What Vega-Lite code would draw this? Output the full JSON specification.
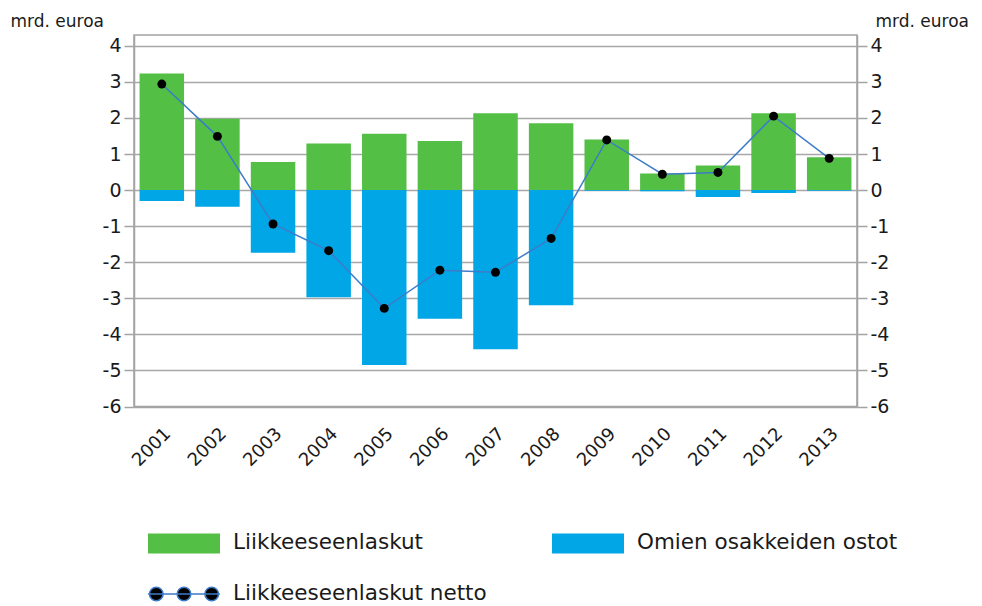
{
  "$schema": "https://vega.github.io/schema/vega-lite/v6.json",
  "autosize": {"type": "none"},
  "padding": {"left": 134, "top": 35, "right": 125, "bottom": 199.5},
  "width": 723,
  "height": 371.5,
  "background": "white",
  "config": {
    "font": "DejaVu Sans",
    "view": {"stroke": "#a3a3a3", "strokeWidth": 1.5},
    "axis": {"labelFont": "DejaVu Sans", "titleFont": "DejaVu Sans", "labelColor": "#1a1a1a", "titleColor": "#1a1a1a"}
  },
  "data": {"values": [
    {"year": "2001", "series": "1 Liikkeeseenlaskut", "value": 3.23},
    {"year": "2002", "series": "1 Liikkeeseenlaskut", "value": 1.98},
    {"year": "2003", "series": "1 Liikkeeseenlaskut", "value": 0.78},
    {"year": "2004", "series": "1 Liikkeeseenlaskut", "value": 1.29},
    {"year": "2005", "series": "1 Liikkeeseenlaskut", "value": 1.56},
    {"year": "2006", "series": "1 Liikkeeseenlaskut", "value": 1.36},
    {"year": "2007", "series": "1 Liikkeeseenlaskut", "value": 2.13},
    {"year": "2008", "series": "1 Liikkeeseenlaskut", "value": 1.85},
    {"year": "2009", "series": "1 Liikkeeseenlaskut", "value": 1.40},
    {"year": "2010", "series": "1 Liikkeeseenlaskut", "value": 0.46},
    {"year": "2011", "series": "1 Liikkeeseenlaskut", "value": 0.68},
    {"year": "2012", "series": "1 Liikkeeseenlaskut", "value": 2.13},
    {"year": "2013", "series": "1 Liikkeeseenlaskut", "value": 0.91},
    {"year": "2001", "series": "2 Omien osakkeiden ostot", "value": -0.30},
    {"year": "2002", "series": "2 Omien osakkeiden ostot", "value": -0.46},
    {"year": "2003", "series": "2 Omien osakkeiden ostot", "value": -1.74},
    {"year": "2004", "series": "2 Omien osakkeiden ostot", "value": -2.97},
    {"year": "2005", "series": "2 Omien osakkeiden ostot", "value": -4.85},
    {"year": "2006", "series": "2 Omien osakkeiden ostot", "value": -3.57},
    {"year": "2007", "series": "2 Omien osakkeiden ostot", "value": -4.41},
    {"year": "2008", "series": "2 Omien osakkeiden ostot", "value": -3.19},
    {"year": "2009", "series": "2 Omien osakkeiden ostot", "value": -0.02},
    {"year": "2010", "series": "2 Omien osakkeiden ostot", "value": -0.03},
    {"year": "2011", "series": "2 Omien osakkeiden ostot", "value": -0.19},
    {"year": "2012", "series": "2 Omien osakkeiden ostot", "value": -0.08},
    {"year": "2013", "series": "2 Omien osakkeiden ostot", "value": -0.02},
    {"year": "2001", "series": "3 Liikkeeseenlaskut netto", "value": 2.94},
    {"year": "2002", "series": "3 Liikkeeseenlaskut netto", "value": 1.49},
    {"year": "2003", "series": "3 Liikkeeseenlaskut netto", "value": -0.94},
    {"year": "2004", "series": "3 Liikkeeseenlaskut netto", "value": -1.68},
    {"year": "2005", "series": "3 Liikkeeseenlaskut netto", "value": -3.28},
    {"year": "2006", "series": "3 Liikkeeseenlaskut netto", "value": -2.22},
    {"year": "2007", "series": "3 Liikkeeseenlaskut netto", "value": -2.28},
    {"year": "2008", "series": "3 Liikkeeseenlaskut netto", "value": -1.34},
    {"year": "2009", "series": "3 Liikkeeseenlaskut netto", "value": 1.39},
    {"year": "2010", "series": "3 Liikkeeseenlaskut netto", "value": 0.44},
    {"year": "2011", "series": "3 Liikkeeseenlaskut netto", "value": 0.49},
    {"year": "2012", "series": "3 Liikkeeseenlaskut netto", "value": 2.05},
    {"year": "2013", "series": "3 Liikkeeseenlaskut netto", "value": 0.88}
  ]},
  "encoding": {
    "x": {
      "field": "year", "type": "ordinal",
      "scale": {"paddingInner": 0.2, "paddingOuter": 0.1},
      "axis": {"title": null, "labelAngle": -45, "labelFontSize": 18, "ticks": false, "labelPadding": 18, "domainColor": "#a3a3a3", "domainWidth": 1.5}
    }
  },
  "layer": [
    {
      "transform": [{"filter": "datum.series != '3 Liikkeeseenlaskut netto'"}],
      "mark": {"type": "bar"},
      "encoding": {
        "y": {
          "field": "value", "type": "quantitative", "stack": null,
          "scale": {"domain": [-6, 4.3], "nice": false, "zero": false},
          "axis": {
            "orient": "left", "values": [-6, -5, -4, -3, -2, -1, 0, 1, 2, 3, 4], "labelExpr": "'' + datum.value",
            "labelFontSize": 19, "tickSize": 10, "labelPadding": 3,
            "tickColor": "#a3a3a3", "tickWidth": 1.5,
            "domainColor": "#a3a3a3", "domainWidth": 1.5,
            "grid": true, "gridColor": "#a8a8a8", "gridWidth": 1.5,
            "title": "mrd. euroa", "titleAngle": 0, "titleAlign": "left", "titleBaseline": "alphabetic",
            "titleX": -124, "titleY": -8.5, "titleFontSize": 17, "titleFontWeight": "normal"
          }
        },
        "color": {
          "field": "series", "type": "nominal",
          "scale": {"domain": ["1 Liikkeeseenlaskut", "2 Omien osakkeiden ostot", "3 Liikkeeseenlaskut netto"], "range": ["#53bf45", "#00a6e6", "#000000"]},
          "legend": {
            "title": null, "orient": "none", "direction": "horizontal", "legendX": 13, "legendY": 471, "padding": 0,
            "columns": 2, "columnPadding": 62, "rowPadding": -23, "labelLimit": 0,
            "labelExpr": "slice(datum.label, 2)",
            "labelFont": "DejaVu Sans", "labelFontSize": 21.5, "labelColor": "#1a1a1a", "labelOffset": 12,
            "symbolSize": 5184, "symbolOpacity": 1,
            "encode": {"symbols": {"update": {
              "shape": {"signal": "datum.value == '3 Liikkeeseenlaskut netto' ? 'M-0.96,0A0.19,0.19 0 1 1 -0.58,0A0.19,0.19 0 1 1 -0.96,0ZM-0.19,0A0.19,0.19 0 1 1 0.19,0A0.19,0.19 0 1 1 -0.19,0ZM0.58,0A0.19,0.19 0 1 1 0.96,0A0.19,0.19 0 1 1 0.58,0ZM-1,0H1' : 'M-1,-0.278H1V0.278H-1Z'"},
              "stroke": {"signal": "datum.value == '3 Liikkeeseenlaskut netto' ? '#3d7cc9' : 'transparent'"},
              "strokeWidth": {"value": 1.5}
            }}}
          }
        }
      }
    },
    {
      "transform": [{"filter": "datum.series == '3 Liikkeeseenlaskut netto'"}],
      "mark": {"type": "line", "stroke": "#3d7cc9", "strokeWidth": 1.5},
      "encoding": {
        "y": {
          "field": "value", "type": "quantitative",
          "axis": {
            "orient": "right", "values": [-6, -5, -4, -3, -2, -1, 0, 1, 2, 3, 4], "labelExpr": "'' + datum.value",
            "labelFontSize": 19, "tickSize": 10, "labelPadding": 3,
            "tickColor": "#a3a3a3", "tickWidth": 1.5,
            "domainColor": "#a3a3a3", "domainWidth": 1.5, "grid": false,
            "title": "mrd. euroa", "titleAngle": 0, "titleAlign": "left", "titleBaseline": "alphabetic",
            "titleX": 18, "titleY": -8.5, "titleFontSize": 17, "titleFontWeight": "normal"
          }
        }
      }
    },
    {
      "transform": [{"filter": "datum.series == '3 Liikkeeseenlaskut netto'"}],
      "mark": {"type": "point", "filled": true, "size": 80, "opacity": 1, "color": "#000000"},
      "encoding": {
        "y": {"field": "value", "type": "quantitative", "axis": null}
      }
    }
  ],
  "resolve": {"axis": {"y": "independent"}}
}
